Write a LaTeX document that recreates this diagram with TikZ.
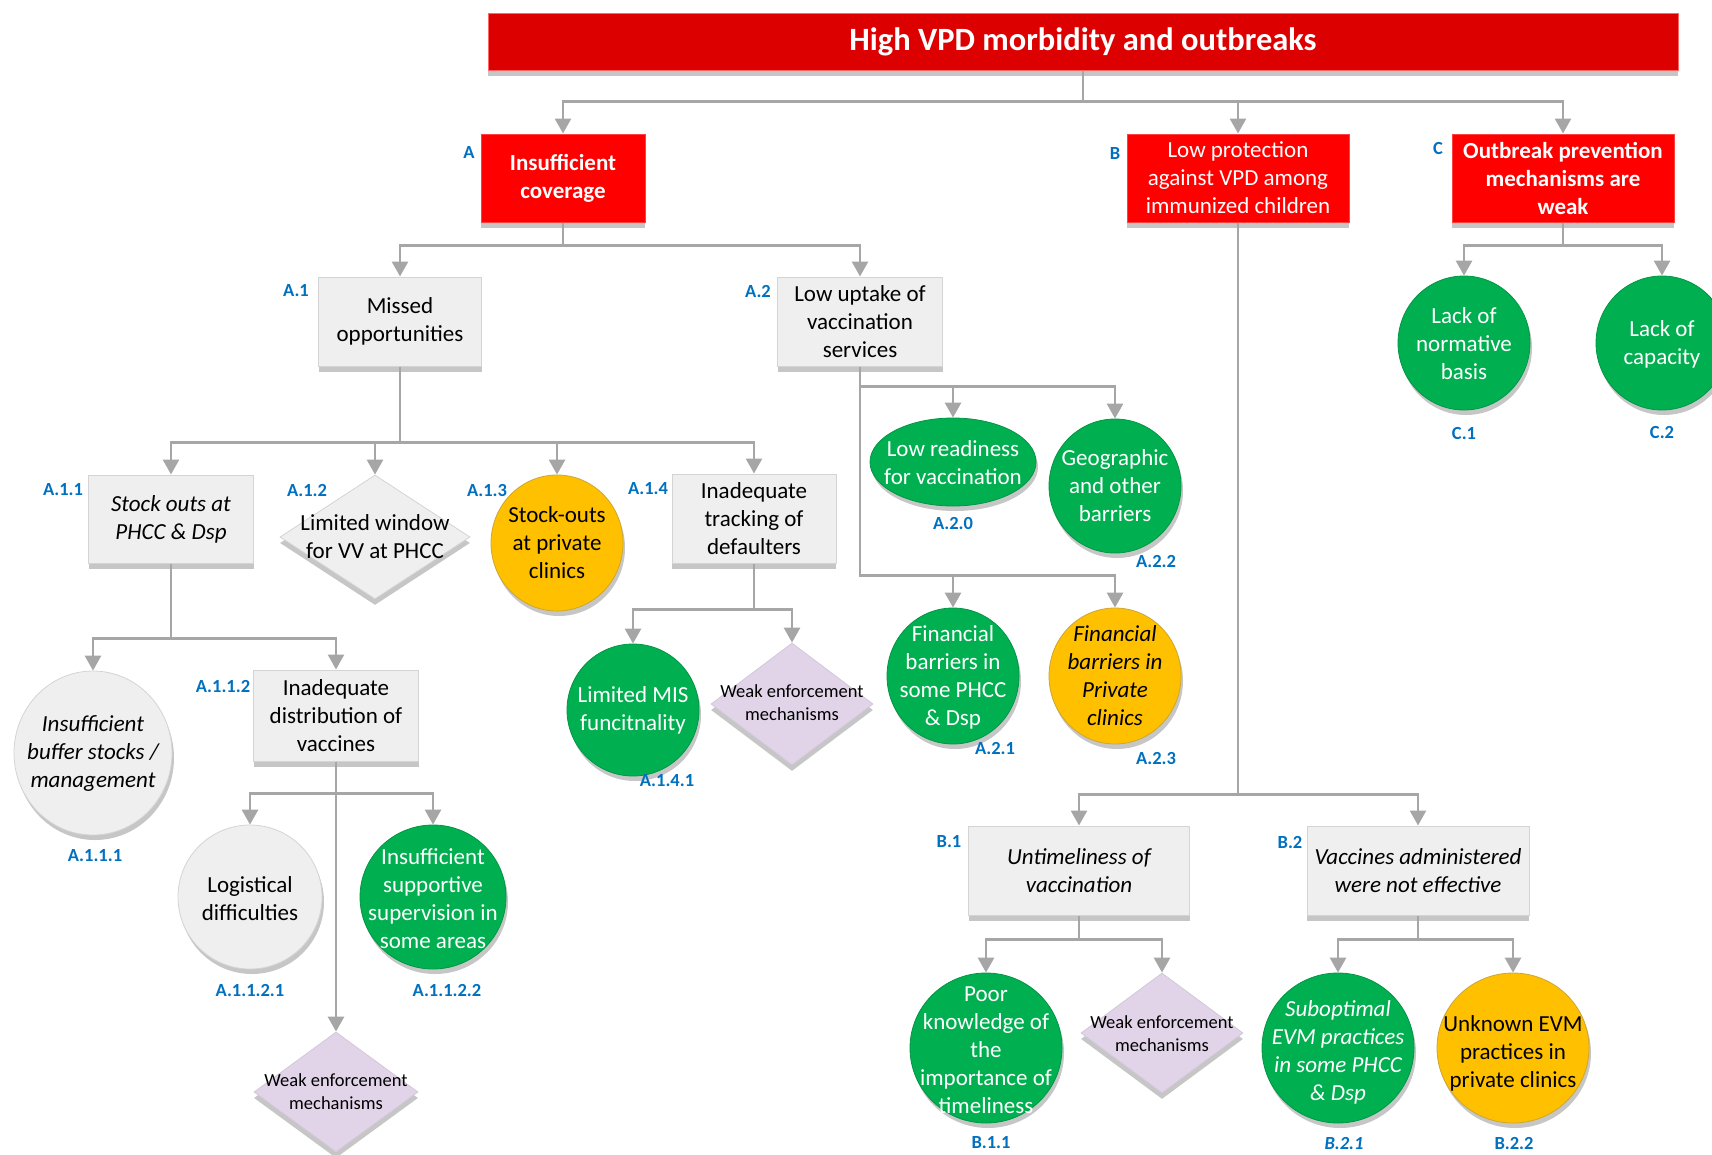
\documentclass[tikz,border=0pt]{standalone}
\usepackage{fontspec}
\setmainfont{Carlito}
\usetikzlibrary{shapes.geometric,shadows,arrows.meta}
\definecolor{rd}{HTML}{FF0000}
\definecolor{trd}{HTML}{DC0000}
\definecolor{gr}{HTML}{00B050}
\definecolor{og}{HTML}{FFC000}
\definecolor{lg}{HTML}{EFEFEF}
\definecolor{lgb}{HTML}{D4D4D4}
\definecolor{pu}{HTML}{E2D4E8}
\definecolor{ln}{HTML}{A6A6A6}
\definecolor{bl}{HTML}{0070C0}
\definecolor{sh}{HTML}{C6C6C6}
\begin{document}
\begin{tikzpicture}[x=1pt,y=-1pt,
  shd/.style={drop shadow={shadow xshift=0pt,shadow yshift=-6pt,fill=sh,opacity=1}},
  cshd/.style={drop shadow={shadow xshift=2pt,shadow yshift=-5pt,fill=sh,opacity=1}},
  txt/.style={font=\fontsize{23}{28}\selectfont,align=center,inner sep=0pt},
  wtxt/.style={txt,text=white},
  dtxt/.style={font=\fontsize{18.5}{23}\selectfont,align=center,inner sep=0pt},
  lab/.style={font=\fontsize{18.5}{22}\selectfont\bfseries,text=bl,inner sep=0pt},
  redbox/.style={rectangle,fill=rd,draw=rd!75!white,line width=1pt,shd,txt,text=white},
  titlebox/.style={rectangle,fill=trd,draw=rd!60!white,line width=1pt,shd,inner sep=0pt,text=white,font=\fontsize{32.5}{36}\selectfont\bfseries},
  graybox/.style={rectangle,fill=lg,draw=lgb,line width=1pt,shd,txt,text=black},
  circ/.style={ellipse,inner sep=0pt,line width=0.8pt,cshd},
  gcirc/.style={circ,fill=gr,draw=gr!85!black},
  ocirc/.style={circ,fill=og,draw=og!60!gray},
  lcirc/.style={circ,fill=lg,draw=lgb},
  pdia/.style={diamond,inner sep=0pt,fill=pu,draw=pu!85!gray,line width=0.8pt,shd},
  ldia/.style={diamond,inner sep=0pt,fill=lg,draw=lgb,line width=0.8pt,shd},
  arr/.style={draw=ln,line width=2.8pt,-{Triangle[width=16pt,length=15pt]}}
]
\useasboundingbox (0,0) rectangle (1712,1154);

% ---- top
\node[titlebox,minimum width=1190pt,minimum height=57pt] (top) at (1083,41.5) {High VPD morbidity and outbreaks};

% ---- level 1
\node[redbox,font=\fontsize{23}{28}\selectfont\bfseries,minimum width=164pt,minimum height=88pt] (A) at (563,178) {Insufficient\\coverage};
\node[redbox,minimum width=222pt,minimum height=88pt] (B) at (1238,178) {Low protection\\against VPD among\\immunized children};
\node[redbox,font=\fontsize{23}{28}\selectfont\bfseries,minimum width=222pt,minimum height=88pt] (C) at (1563,178) {Outbreak prevention\\mechanisms are\\weak};
\node[lab] (Al) at (469,152) {A};
\node[lab] (Bl) at (1115,153) {B};
\node[lab] (Cl) at (1438,148) {C};

% ---- A level 2
\node[graybox,minimum width=163pt,minimum height=89pt] (A1) at (400,321.5) {Missed\\opportunities};
\node[graybox,minimum width=165pt,minimum height=89pt] (A2) at (860,321.5) {Low uptake of\\vaccination\\services};
\node[lab] (A1l) at (296,291) {A.1};
\node[lab] (A2l) at (758,291) {A.2};

% ---- A.1 children
\node[graybox,font=\fontsize{23}{28}\selectfont\itshape,minimum width=165pt,minimum height=88pt] (A11) at (171,519) {Stock outs at\\PHCC \& Dsp};
\node[ldia,minimum width=190pt,minimum height=124pt] (A12) at (375,537) {};
\node[txt] (A12t) at (375,537) {Limited window\\for VV at PHCC};
\node[ocirc,minimum width=132pt,minimum height=136pt] (A13) at (557,543) {};
\node[txt] (A13t) at (A13) {Stock-outs\\at private\\clinics};
\node[graybox,minimum width=164pt,minimum height=89pt] (A14) at (754,518.5) {Inadequate\\tracking of\\defaulters};
\node[lab] (A11l) at (63,490) {A.1.1};
\node[lab] (A12l) at (307,490) {A.1.2};
\node[lab] (A13l) at (487,490) {A.1.3};
\node[lab] (A14l) at (648,489) {A.1.4};

% ---- A.1.1 children
\node[lcirc,minimum width=158pt,minimum height=164pt] (A111) at (93,753) {};
\node[txt,font=\fontsize{23}{28}\selectfont\itshape] (A111t) at (A111) {Insufficient\\buffer stocks /\\management};
\node[lab] (A111l) at (95,856) {A.1.1.1};
\node[graybox,minimum width=165pt,minimum height=91pt] (A112) at (336,715.5) {Inadequate\\distribution of\\vaccines};
\node[lab] (A112l) at (223,686) {A.1.1.2};

% ---- A.1.1.2 children
\node[lcirc,minimum width=144pt,minimum height=144pt] (A1121) at (250,897) {};
\node[txt] (A1121t) at (250,899) {Logistical\\difficulties};
\node[lab] (A1121l) at (250,990) {A.1.1.2.1};
\node[gcirc,minimum width=146pt,minimum height=144pt] (A1122) at (433,897) {};
\node[wtxt] (A1122t) at (433,899) {Insufficient\\supportive\\supervision in\\some areas};
\node[lab] (A1122l) at (447,990) {A.1.1.2.2};
\node[pdia,minimum width=164pt,minimum height=120pt] (W1) at (336,1092) {};
\node[dtxt] (W1t) at (336,1092) {Weak enforcement\\mechanisms};

% ---- A.1.4 children
\node[gcirc,minimum width=132pt,minimum height=132pt] (A141) at (633,710) {};
\node[wtxt] (A141t) at (A141) {Limited MIS\\funcitnality};
\node[lab] (A141l) at (667,781) {A.1.4.1};
\node[pdia,minimum width=162pt,minimum height=122pt] (W2) at (792,704) {};
\node[dtxt] (W2t) at (792,703) {Weak enforcement\\mechanisms};

% ---- A.2 children
\node[gcirc,minimum width=166pt,minimum height=88pt] (A20) at (953,462) {};
\node[wtxt] (A20t) at (953,463) {Low readiness\\for vaccination};
\node[lab] (A20l) at (953,523) {A.2.0};
\node[gcirc,minimum width=132pt,minimum height=134pt] (A22) at (1115,486) {};
\node[wtxt] (A22t) at (A22) {Geographic\\and other\\barriers};
\node[lab] (A22l) at (1156,561) {A.2.2};
\node[gcirc,minimum width=132pt,minimum height=136pt] (A21) at (953,676) {};
\node[wtxt] (A21t) at (953,677) {Financial\\barriers in\\some PHCC\\\& Dsp};
\node[lab] (A21l) at (995,748) {A.2.1};
\node[ocirc,minimum width=132pt,minimum height=136pt] (A23) at (1115,676) {};
\node[txt,font=\fontsize{23}{28}\selectfont\itshape] (A23t) at (A23) {Financial\\barriers in\\Private\\clinics};
\node[lab] (A23l) at (1156,758) {A.2.3};

% ---- C children
\node[gcirc,minimum width=132pt,minimum height=134pt] (C1) at (1464,343) {};
\node[wtxt] (C1t) at (1464,344) {Lack of\\normative\\basis};
\node[lab] (C1l) at (1464,433) {C.1};
\node[gcirc,minimum width=132pt,minimum height=134pt] (C2) at (1662,343) {};
\node[wtxt] (C2t) at (1662,344) {Lack of\\capacity};
\node[lab] (C2l) at (1662,432) {C.2};

% ---- B children
\node[graybox,font=\fontsize{23}{28}\selectfont\itshape,minimum width=221pt,minimum height=89pt] (B1) at (1079,870.5) {Untimeliness of\\vaccination};
\node[lab] (B1l) at (949,842) {B.1};
\node[graybox,font=\fontsize{23}{28}\selectfont\itshape,minimum width=222pt,minimum height=89pt] (B2) at (1418,870.5) {Vaccines administered\\were not effective};
\node[lab] (B2l) at (1290,842) {B.2};

\node[gcirc,minimum width=152pt,minimum height=150pt] (B11) at (986,1048) {};
\node[wtxt] (B11t) at (986,1050) {Poor\\knowledge of\\the\\importance of\\timeliness};
\node[lab] (B11l) at (991,1143) {B.1.1};
\node[pdia,minimum width=162pt,minimum height=120pt] (W3) at (1162,1033) {};
\node[dtxt] (W3t) at (1162,1034) {Weak enforcement\\mechanisms};
\node[gcirc,minimum width=152pt,minimum height=150pt] (B21) at (1338,1048) {};
\node[wtxt,font=\fontsize{23}{28}\selectfont\itshape] (B21t) at (1338,1052) {Suboptimal\\EVM practices\\in some PHCC\\\& Dsp};
\node[lab,font=\fontsize{18.5}{22}\selectfont\bfseries\itshape] (B21l) at (1344,1143) {B.2.1};
\node[ocirc,minimum width=152pt,minimum height=150pt] (B22) at (1513,1048) {};
\node[txt] (B22t) at (1513,1053) {Unknown EVM\\practices in\\private clinics};
\node[lab] (B22l) at (1514,1143) {B.2.2};

% ---- connectors
\draw[arr] (top.south) -- ++(0,31) -| (A.north);
\draw[arr] (top.south) -- ++(0,31) -| (B.north);
\draw[arr] (top.south) -- ++(0,31) -| (C.north);

\draw[arr] (A.south) -- ++(0,23) -| (A1.north);
\draw[arr] (A.south) -- ++(0,23) -| (A2.north);

\draw[arr] (A1.south) -- ++(0,76) -| (A11.north);
\draw[arr] (A1.south) -- ++(0,76) -| (A12.north);
\draw[arr] (A1.south) -- ++(0,76) -| (A13.north);
\draw[arr] (A1.south) -- ++(0,76) -| (A14.north);

\draw[arr] (A11.south) -- ++(0,75) -| (A111.north);
\draw[arr] (A11.south) -- ++(0,75) -| (A112.north);

\draw[arr] (A112.south) -- ++(0,32) -| (A1121.north);
\draw[arr] (A112.south) -- ++(0,32) -| (A1122.north);
\draw[arr] (A112.south) -- (W1.north);

\draw[arr] (A14.south) -- ++(0,46) -| (A141.north);
\draw[arr] (A14.south) -- ++(0,46) -| (W2.north);

\draw[arr] (A2.south) -- ++(0,20) -| (A20.north);
\draw[arr] (A2.south) -- ++(0,20) -| (A22.north);
\draw[arr] (A2.south) -- ++(0,209) -| (A21.north);
\draw[arr] (A2.south) -- ++(0,209) -| (A23.north);

\draw[arr] (C.south) -- ++(0,23) -| (C1.north);
\draw[arr] (C.south) -- ++(0,23) -| (C2.north);

\draw[arr] (B.south) -- ++(0,572) -| (B1.north);
\draw[arr] (B.south) -- ++(0,572) -| (B2.north);

\draw[arr] (B1.south) -- ++(0,24) -| (B11.north);
\draw[arr] (B1.south) -- ++(0,24) -| (W3.north);
\draw[arr] (B2.south) -- ++(0,24) -| (B21.north);
\draw[arr] (B2.south) -- ++(0,24) -| (B22.north);
\end{tikzpicture}
\end{document}
